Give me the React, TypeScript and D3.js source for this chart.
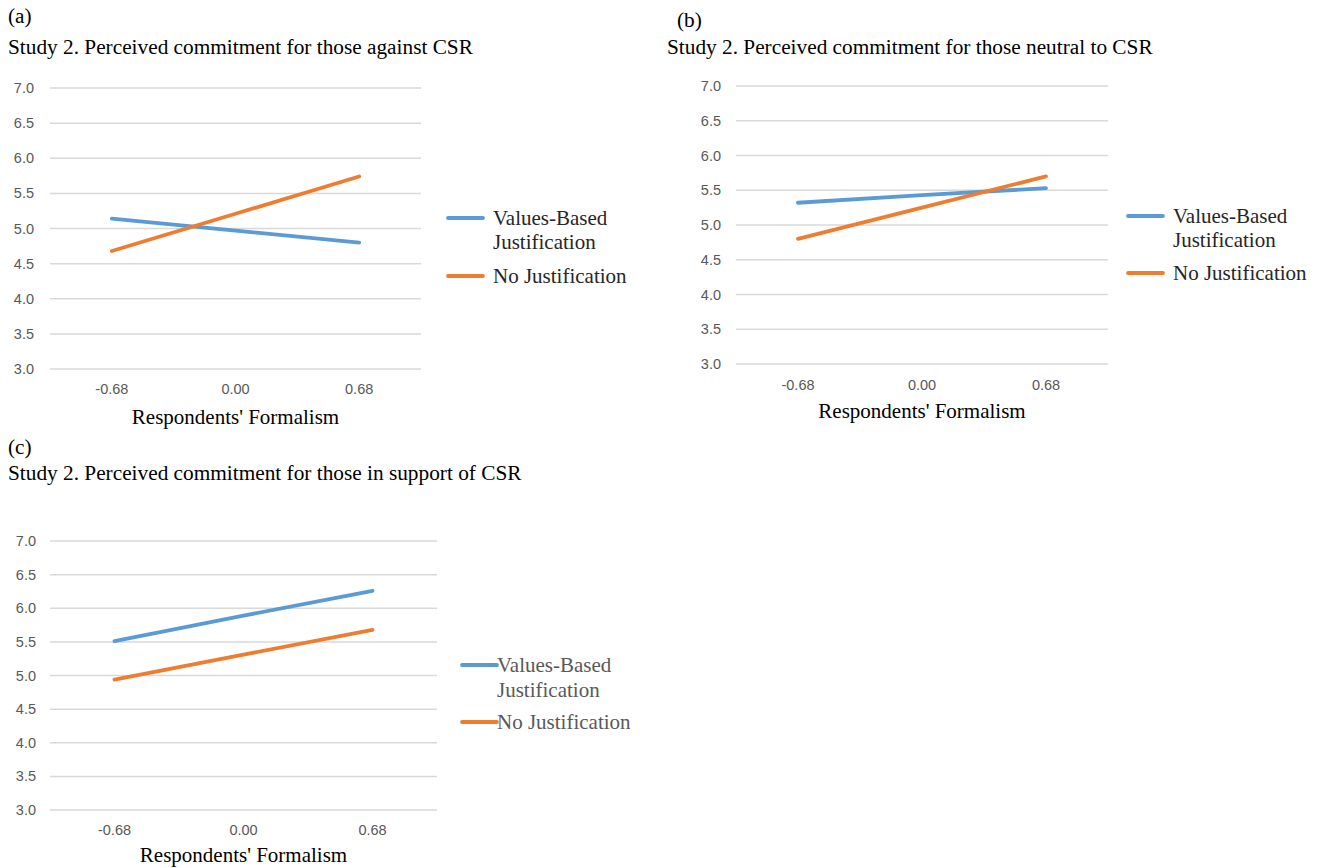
import React from "react";
import * as d3 from "d3";

const xCategories = ["-0.68", "0.00", "0.68"];
const yTicks = [3.0, 3.5, 4.0, 4.5, 5.0, 5.5, 6.0, 6.5, 7.0];
const seriesNames = ["Values-Based", "No Justification"];

const againstValuesBased = [5.14, 4.97, 4.8];
const againstNoJustification = [4.68, 5.21, 5.74];
const neutralValuesBased = [5.32, 5.43, 5.53];
const neutralNoJustification = [4.8, 5.25, 5.7];
const supportValuesBased = [5.51, 5.89, 6.26];
const supportNoJustification = [4.94, 5.31, 5.68];

const BLUE = "#5B9BD5";
const ORANGE = "#ED7D31";
const SERIF = "'Liberation Serif', 'Times New Roman', serif";
const SANS = "'Liberation Sans', Arial, sans-serif";

type PanelProps = {
  tag: string;
  title: string;
  tagX: number; tagY: number;
  titleX: number; titleY: number;
  gx0: number; gx1: number; yTop: number; yBot: number;
  labelRight: number; tickY: number; axisTitleY: number;
  vb: number[]; nj: number[];
  legX0: number; legX1: number; legTextX: number;
  legY1: number; legY1b: number; legY2: number;
  legColor: string;
};

function Panel(p: PanelProps) {
  const x = d3.scaleBand<string>().domain(xCategories).range([p.gx0, p.gx1]);
  const y = d3.scaleLinear().domain([3, 7]).range([p.yBot, p.yTop]);
  const cx = (c: string) => (x(c) as number) + x.bandwidth() / 2;
  const line = d3
    .line<number>()
    .x((_, i) => cx(xCategories[i]))
    .y((v) => y(v));
  return (
    <g>
      <text x={p.tagX} y={p.tagY} fontFamily={SERIF} fontSize={21.3} dominantBaseline="central" fill="#000">{p.tag}</text>
      <text x={p.titleX} y={p.titleY} fontFamily={SERIF} fontSize={21.3} dominantBaseline="central" fill="#000">{p.title}</text>
      {yTicks.map((t) => (
        <g key={t}>
          <line x1={p.gx0} x2={p.gx1} y1={y(t)} y2={y(t)} stroke="#D9D9D9" strokeWidth={1.5} />
          <text x={p.labelRight} y={y(t)} textAnchor="end" dominantBaseline="central" fontFamily={SANS} fontSize={14.5} fill="#595959">{t.toFixed(1)}</text>
        </g>
      ))}
      {xCategories.map((c) => (
        <text key={c} x={cx(c)} y={p.tickY} textAnchor="middle" dominantBaseline="central" fontFamily={SANS} fontSize={14.5} fill="#595959">{c}</text>
      ))}
      <text x={(p.gx0 + p.gx1) / 2} y={p.axisTitleY} textAnchor="middle" dominantBaseline="central" fontFamily={SERIF} fontSize={21} fill="#000">Respondents' Formalism</text>
      <path d={line(p.vb) || ""} fill="none" stroke={BLUE} strokeWidth={3.8} strokeLinecap="round" />
      <path d={line(p.nj) || ""} fill="none" stroke={ORANGE} strokeWidth={3.8} strokeLinecap="round" />
      <line x1={p.legX0} x2={p.legX1} y1={p.legY1} y2={p.legY1} stroke={BLUE} strokeWidth={3.8} strokeLinecap="round" />
      <text x={p.legTextX} y={p.legY1} dominantBaseline="central" fontFamily={SERIF} fontSize={21} fill={p.legColor}>{seriesNames[0]}</text>
      <text x={p.legTextX} y={p.legY1b} dominantBaseline="central" fontFamily={SERIF} fontSize={21} fill={p.legColor}>Justification</text>
      <line x1={p.legX0} x2={p.legX1} y1={p.legY2} y2={p.legY2} stroke={ORANGE} strokeWidth={3.8} strokeLinecap="round" />
      <text x={p.legTextX} y={p.legY2} dominantBaseline="central" fontFamily={SERIF} fontSize={21} fill={p.legColor}>{seriesNames[1]}</text>
    </g>
  );
}

export default function App() {
  return (
    <svg width={1318} height={868} style={{ position: "absolute", left: 0, top: 0, background: "#fff" }}>
      <rect x={0} y={0} width={1318} height={868} fill="#fff" />
      <Panel tag="(a)" title="Study 2. Perceived commitment for those against CSR"
        tagX={8} tagY={16} titleX={8} titleY={47}
        gx0={50} gx1={421} yTop={88} yBot={369}
        labelRight={34} tickY={389} axisTitleY={417}
        vb={againstValuesBased} nj={againstNoJustification}
        legX0={448} legX1={483} legTextX={493} legY1={218} legY1b={242} legY2={276} legColor="#262626" />
      <Panel tag="(b)" title="Study 2. Perceived commitment for those neutral to CSR"
        tagX={677} tagY={20} titleX={667} titleY={47}
        gx0={736} gx1={1108} yTop={86} yBot={364}
        labelRight={721} tickY={385} axisTitleY={411}
        vb={neutralValuesBased} nj={neutralNoJustification}
        legX0={1128} legX1={1163} legTextX={1173} legY1={216} legY1b={240} legY2={273} legColor="#262626" />
      <Panel tag="(c)" title="Study 2. Perceived commitment for those in support of CSR"
        tagX={8} tagY={447} titleX={8} titleY={473}
        gx0={50} gx1={437} yTop={541} yBot={810}
        labelRight={36} tickY={830} axisTitleY={855}
        vb={supportValuesBased} nj={supportNoJustification}
        legX0={462} legX1={497} legTextX={497} legY1={665} legY1b={690} legY2={722} legColor="#595959" />
    </svg>
  );
}
